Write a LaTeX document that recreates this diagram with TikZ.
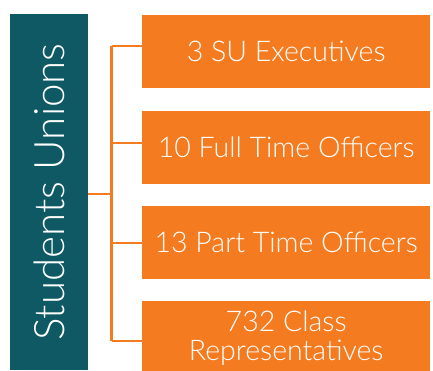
\documentclass[tikz,border=0pt]{standalone}
\usepackage{fontspec}
\setmainfont{Lato}[UprightFont=* Light]
\usetikzlibrary{positioning}

\definecolor{suteal}{RGB}{14,89,100}
\definecolor{suorange}{RGB}{244,123,32}

\tikzset{
    rolebox/.style={fill=suorange, text=white, align=center, inner sep=0pt,
        minimum width=288pt, minimum height=73pt, font=\fontsize{28.5}{29}\selectfont},
    unionbox/.style={fill=suteal, text=white, rotate=90, inner sep=0pt,
        minimum width=356pt, minimum height=78pt, font=\fontsize{42}{44}\selectfont},
    branch/.style={draw=suorange, line width=2.5pt}
}

\begin{document}
\begin{tikzpicture}[x=1pt, y=-1pt, node distance=22pt]
            \useasboundingbox (0,0) rectangle (433,370);
            \node[unionbox] (union) at (49,192) {Students Unions};
            \node[rolebox, anchor=north west] (execs) at (142,15) {3 SU Executives};
            \node[rolebox] (fulltime) [below=of execs] {10 Full Time Officers};
            \node[rolebox] (parttime) [below=of fulltime] {13 Part Time Officers};
            \node[rolebox] (classreps) [below=of parttime] {732 Class\\Representatives};
            \coordinate (split) at (111.5,194);
            \coordinate (top) at (111.5,46);
            \coordinate (bottom) at (111.5,341);
            \draw[branch] (union.south |- split) -- (split);
            \draw[branch] (top) -- (bottom);
            \draw[branch] (top) -- (top -| execs.west);
            \draw[branch] (fulltime.west |- 0,143) -- (split |- 0,143);
            \draw[branch] (parttime.west |- 0,243) -- (split |- 0,243);
            \draw[branch] (bottom) -- (bottom -| classreps.west);
        \end{tikzpicture}
\end{document}
